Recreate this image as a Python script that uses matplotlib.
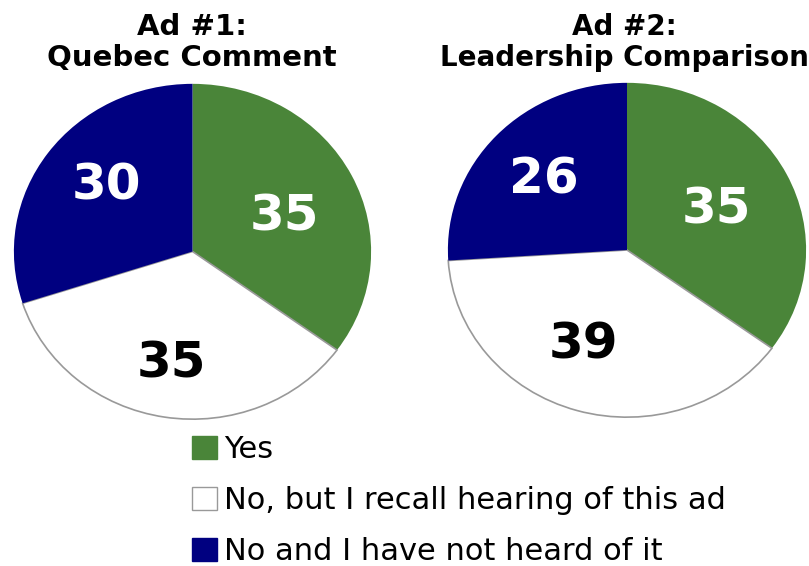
import matplotlib.pyplot as plt
from matplotlib.patches import Patch

categories = ["Yes", "No, but I recall hearing of this ad", "No and I have not heard of it"]
ad1_values = [35, 35, 30]
ad2_values = [35, 39, 26]
titles = [["Ad #1:", "Quebec Comment"], ["Ad #2:", "Leadership Comparison"]]

colors = ["#4a8539", "#ffffff", "#000080"]
text_colors = ["white", "black", "white"]

W, H = 809, 566
fig = plt.figure(figsize=(W / 100, H / 100), dpi=100)

# pie boxes in pixels: left, top, right, bottom
boxes = [(13, 83, 372, 420), (447, 82, 807, 418)]
title_x = [192, 624]
title_size = [21, 20]
# where the value labels sit inside each pie (data units)
label_pos = [
    [(0.515, 0.21), (-0.12, -0.67), (-0.48, 0.395)],
    [(0.50, 0.24), (-0.245, -0.568), (-0.467, 0.42)],
]


def draw_pie(ax, values, pos):
    wedges, _, autotexts = ax.pie(
        values, colors=colors, startangle=90, counterclock=False,
        autopct=lambda p: f"{p:.0f}", pctdistance=0.62,
        wedgeprops=dict(linewidth=0))
    # only the white slice gets a grey outline
    wedges[1].set_edgecolor("#999999")
    wedges[1].set_linewidth(1.2)
    for t, c, xy in zip(autotexts, text_colors, pos):
        t.set_position(xy)
        t.set_color(c)
        t.set_fontsize(36)
        t.set_fontweight("bold")
    ax.set_aspect("auto")
    ax.set_xlim(-1.005, 1.005)
    ax.set_ylim(-1.005, 1.005)


for (l, t, r, b), vals, pos in zip(boxes, [ad1_values, ad2_values], label_pos):
    ax = fig.add_axes([l / W, (H - b) / H, (r - l) / W, (b - t) / H])
    draw_pie(ax, vals, pos)

for x, lines, size in zip(title_x, titles, title_size):
    for line, base in zip(lines, [35, 66]):
        fig.text(x / W, 1 - base / H, line, ha="center", va="baseline",
                 fontsize=size, fontweight="bold")

handles = [Patch(facecolor=c, edgecolor="#999999" if c == "#ffffff" else c, linewidth=1)
           for c in colors]
fig.legend(handles, categories, loc="upper left", bbox_to_anchor=(192 / W, 1 - 435 / H),
           frameon=False, fontsize=22, handlelength=0.82, handleheight=0.82,
           handletextpad=0.24, labelspacing=0.72, borderpad=0, borderaxespad=0)

fig.savefig("out.png", dpi=100)
